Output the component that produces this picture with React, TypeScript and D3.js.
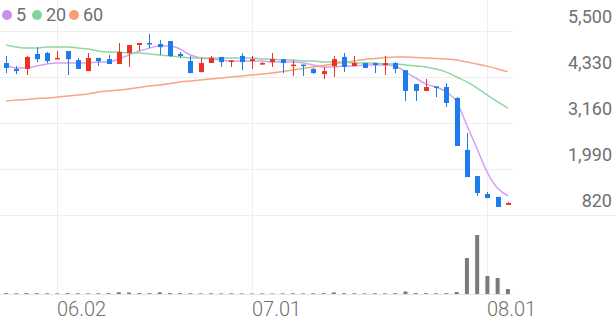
import React from "react";
import * as d3 from "d3";

const dates = [
  "05.26","05.27","05.28","05.29","05.30",
  "06.02","06.04","06.05","06.09","06.10","06.11","06.12","06.13","06.16","06.17","06.18","06.19","06.20","06.23","06.24","06.25","06.26","06.27","06.30",
  "07.01","07.02","07.03","07.04","07.07","07.08","07.09","07.10","07.11","07.14","07.15","07.16","07.17","07.18","07.21","07.22","07.23","07.24","07.25","07.28","07.29","07.30","07.31",
  "08.01","08.04","08.05",
];
const opens = [4685,4535,4535,4915,4940,4785,4990,4760,4480,4815,4785,4660,4940,5145,5195,5170,5245,4915,4735,4455,4685,4840,4725,4865,4735,4670,4710,4785,4620,4645,4535,4405,4610,4840,4610,4685,4685,4635,4685,4505,4150,3975,4090,4075,3795,2475,1810,1355,1280,1075];
const highs = [4865,4610,4865,5090,4965,4990,4990,4815,4940,4815,4890,5195,5145,5195,5425,5270,5245,4965,4865,4815,4865,4840,4760,4940,4865,4710,4940,4785,4760,4645,4560,4585,4865,4940,4865,4685,4685,4865,4710,4505,4150,4280,4090,4175,3820,2905,1810,1405,1280,1150];
const lows = [4430,4405,4380,4710,4685,4785,4380,4535,4480,4610,4660,4660,4585,4990,5065,4890,4840,4815,4430,4455,4685,4585,4585,4505,4535,4635,4585,4430,4355,4355,4405,4280,4330,4455,4610,4560,4430,4380,4430,3720,3720,3975,3820,3565,2575,1785,1305,1250,1025,1075];
const closes = [4560,4480,4840,4785,4735,4815,4785,4535,4815,4735,4660,4965,5145,5195,5170,5090,4865,4865,4430,4685,4815,4710,4750,4710,4785,4685,4785,4685,4645,4620,4430,4480,4785,4585,4685,4560,4635,4685,4535,3975,3975,4075,4060,3670,2575,1785,1380,1250,1025,1125];
const volumes = [80,70,90,80,70,60,80,70,60,70,80,180,150,90,80,170,90,80,70,60,70,60,70,60,50,60,50,60,70,60,70,80,160,80,70,60,70,60,80,250,90,80,70,80,200,3600,5900,1800,1600,500];
const ma5 = [4635,4560,4560,4610,4660,4685,4685,4685,4685,4710,4710,4790,4890,4990,5065,5120,5120,5040,4890,4815,4790,4760,4735,4735,4735,4735,4710,4710,4710,4685,4635,4585,4585,4610,4610,4635,4635,4635,4610,4455,4305,4150,4075,3950,3700,3100,2500,1900,1500,1310];
const ma20 = [5145,5095,5065,5065,5095,5095,5095,5065,5040,4990,4965,4965,4940,4940,4915,4890,4865,4840,4815,4815,4815,4815,4815,4815,4815,4790,4790,4760,4760,4735,4735,4710,4710,4710,4685,4685,4685,4660,4660,4635,4610,4585,4535,4455,4330,4205,4050,3870,3695,3540];
const ma60 = [3720,3745,3760,3785,3795,3820,3845,3870,3900,3950,3975,4000,4025,4065,4100,4125,4165,4205,4230,4255,4280,4305,4330,4355,4380,4405,4430,4470,4510,4545,4585,4620,4660,4700,4740,4775,4800,4825,4840,4840,4825,4815,4800,4790,4765,4710,4660,4600,4535,4460];
const yTicks = [5500, 4330, 3160, 1990, 820];
const xTickLabels = ["06.02", "07.01", "08.01"];
const legendLabels = ["5", "20", "60"];

const W = 616;
const H = 321;
const UP = "#ec3323";
const DOWN = "#1e7bec";
const MA_COLORS = ["#d7a0f3", "#8fd8a2", "#f8a582"];
const LEGEND_COLORS = ["#cc8ef0", "#82d49c", "#f89d78"];
const GRID = "#eeeeee";
const TEXT = "#6f6f6f";
const FONT = "Roboto, 'Noto Sans', sans-serif";

export default function App() {
  const idx = d3.range(dates.length);
  const x = d3.scaleBand<number>().domain(idx).range([1, 513]).padding(0);
  const bw = x.bandwidth();
  const cx = (i: number) => (x(i) as number) + bw / 2;
  const y = d3.scaleLinear().domain([820, 5500]).range([215, 31]);
  const yv = d3.scaleLinear().domain([0, 5900]).range([294, 235]);
  const line = d3
    .line<number>()
    .x((_, i) => cx(i))
    .y((d) => y(d))
    .curve(d3.curveMonotoneX);
  const maSeries = [ma5, ma20, ma60];
  const bodyW = 5;
  const volW = 4;

  return (
    <svg
      width={W}
      height={H}
      style={{ position: "absolute", left: 0, top: 0, background: "#fff" }}
      fontFamily={FONT}
    >
      {yTicks.slice(0, 4).map((t) => (
        <line key={t} x1={0} x2={513} y1={Math.round(y(t)) + 0.5} y2={Math.round(y(t)) + 0.5} stroke={GRID} />
      ))}
      <line x1={0} x2={W} y1={Math.round(y(820)) + 0.5} y2={Math.round(y(820)) + 0.5} stroke={GRID} />
      {xTickLabels.map((lab) => {
        const i = dates.indexOf(lab);
        const gx = Math.round(cx(i)) + 0.5;
        return <line key={lab} x1={gx} x2={gx} y1={0} y2={294} stroke={GRID} />;
      })}
      <line x1={0} x2={513} y1={294.5} y2={294.5} stroke="#e4e4e4" />
      {volumes.map((v, i) => (
        <rect key={i} x={cx(i) - volW / 2} y={yv(v)} width={volW} height={294 - yv(v)} fill="#7a7a7a" />
      ))}
      {maSeries.map((s, k) => (
        <path key={k} d={line(s) || ""} fill="none" stroke={MA_COLORS[k]} strokeWidth={1.5} />
      ))}
      {idx.map((i) => {
        const up = closes[i] >= opens[i];
        const c = up ? UP : DOWN;
        const top = y(Math.max(opens[i], closes[i]));
        const bot = y(Math.min(opens[i], closes[i]));
        const xc = Math.round(cx(i)) + 0.5;
        return (
          <g key={i}>
            <line x1={xc} x2={xc} y1={y(highs[i])} y2={y(lows[i])} stroke={c} strokeWidth={1} />
            <rect x={xc - bodyW / 2} y={top} width={bodyW} height={Math.max(1.5, bot - top)} fill={c} />
          </g>
        );
      })}
      {yTicks.map((t) => (
        <text key={t} x={612} y={y(t) - 8} textAnchor="end" fontSize={18} fill={TEXT}>
          {d3.format(",")(t)}
        </text>
      ))}
      {xTickLabels.map((lab) => {
        const i = dates.indexOf(lab);
        return (
          <text key={lab} x={Math.round(cx(i))} y={316} fontSize={20} fontWeight={300} fill={TEXT}>
            {lab}
          </text>
        );
      })}
      {legendLabels.map((lab, k) => {
        const lx = [7, 37, 74][k];
        return (
          <g key={lab}>
            <circle cx={lx} cy={15} r={5} fill={LEGEND_COLORS[k]} />
            <text x={lx + 9} y={15} dy="0.35em" fontSize={18} fill={TEXT}>
              {lab}
            </text>
          </g>
        );
      })}
    </svg>
  );
}
